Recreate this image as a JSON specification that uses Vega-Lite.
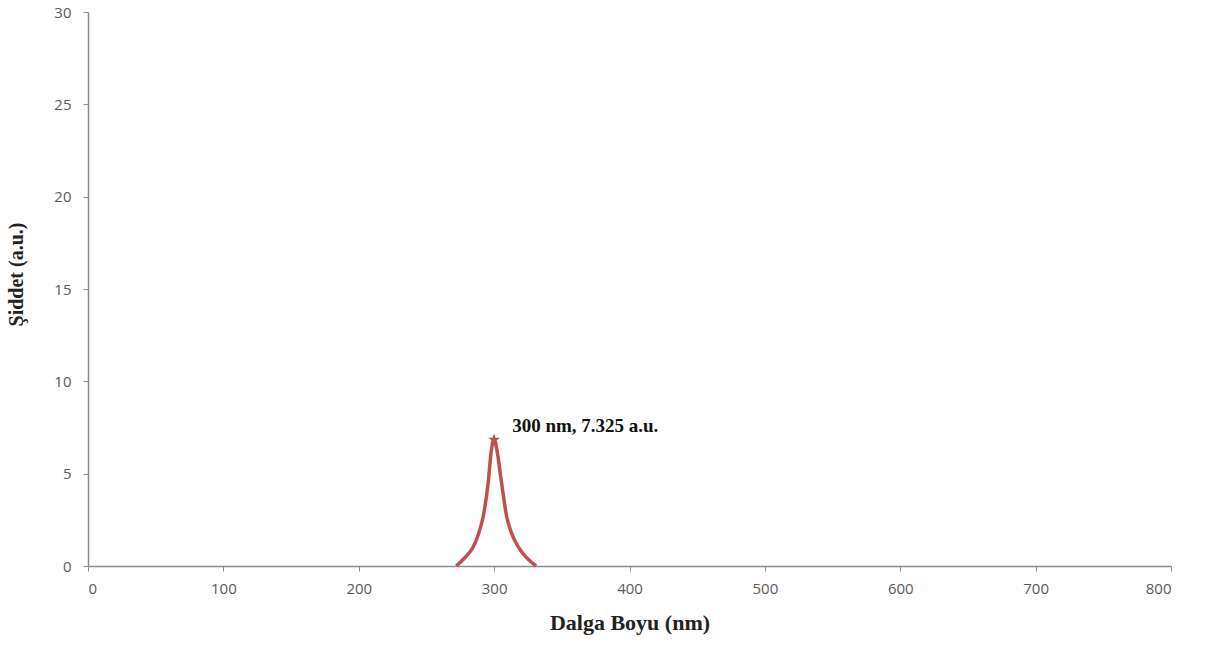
{
  "$schema": "https://vega.github.io/schema/vega-lite/v6.json",
  "width": 1083,
  "height": 554,
  "autosize": {"type": "none"},
  "padding": {"left": 88, "top": 12, "right": 37, "bottom": 80},
  "background": "white",
  "config": {
    "view": {"stroke": null},
    "axis": {
      "grid": false,
      "domainColor": "#8c8c8c",
      "domainWidth": 1.5,
      "tickColor": "#8c8c8c",
      "tickSize": 5,
      "labelColor": "#595959",
      "labelFont": "Open Sans",
      "labelFontSize": 15,
      "titleFont": "Liberation Serif",
      "titleFontWeight": "bold",
      "titleColor": "#222222"
    }
  },
  "data": {
    "values": [
      {"wl": 272, "v": 0, "kind": "curve"},
      {"wl": 278, "v": 0.42, "kind": "curve"},
      {"wl": 284.6, "v": 1.04, "kind": "curve"},
      {"wl": 288.5, "v": 1.75, "kind": "curve"},
      {"wl": 292, "v": 2.7, "kind": "curve"},
      {"wl": 295.6, "v": 4.5, "kind": "curve"},
      {"wl": 298, "v": 6.3, "kind": "curve"},
      {"wl": 300, "v": 6.85, "kind": "curve"},
      {"wl": 302, "v": 6.3, "kind": "curve"},
      {"wl": 305.5, "v": 4.5, "kind": "curve"},
      {"wl": 309.2, "v": 2.7, "kind": "curve"},
      {"wl": 313, "v": 1.75, "kind": "curve"},
      {"wl": 317.8, "v": 1.04, "kind": "curve"},
      {"wl": 324, "v": 0.45, "kind": "curve"},
      {"wl": 331, "v": 0, "kind": "curve"},
      {"wl": 300, "v": 6.85, "kind": "peak", "label": "300 nm, 7.325 a.u."}
    ]
  },
  "encoding": {
    "x": {"field": "wl", "type": "quantitative", "scale": {"domain": [0, 800], "nice": false},
      "axis": {"orient": "bottom", "values": [0, 100, 200, 300, 400, 500, 600, 700, 800], "title": "Dalga Boyu (nm)", "titleFontSize": 22, "labelPadding": 10, "titlePadding": 16}},
    "y": {"field": "v", "type": "quantitative", "scale": {"domain": [0, 30], "nice": false},
      "axis": {"orient": "left", "values": [0, 5, 10, 15, 20, 25, 30], "title": "Şiddet (a.u.)", "titleFontSize": 20, "labelPadding": 12, "titlePadding": 27, "titleY": 262}}
  },
  "layer": [
    {
      "transform": [{"filter": "datum.kind === 'curve'"}],
      "mark": {"type": "line", "color": "#C0504D", "strokeWidth": 3.5, "interpolate": "monotone"}
    },
    {
      "transform": [{"filter": "datum.kind === 'peak'"}],
      "mark": {"type": "point", "shape": "M0,-1L0.25,-0.3L0.95,-0.3L0.4,0.15L0.6,0.85L0,0.4L-0.6,0.85L-0.4,0.15L-0.95,-0.3L-0.25,-0.3Z", "filled": true, "color": "#C0504D", "size": 150, "opacity": 1}
    },
    {
      "transform": [{"filter": "datum.kind === 'peak'"}],
      "mark": {"type": "text", "align": "left", "baseline": "middle", "dx": 18, "dy": -14, "font": "Liberation Serif", "fontWeight": "bold", "fontSize": 19, "color": "#111111"},
      "encoding": {"text": {"field": "label"}}
    }
  ]
}
